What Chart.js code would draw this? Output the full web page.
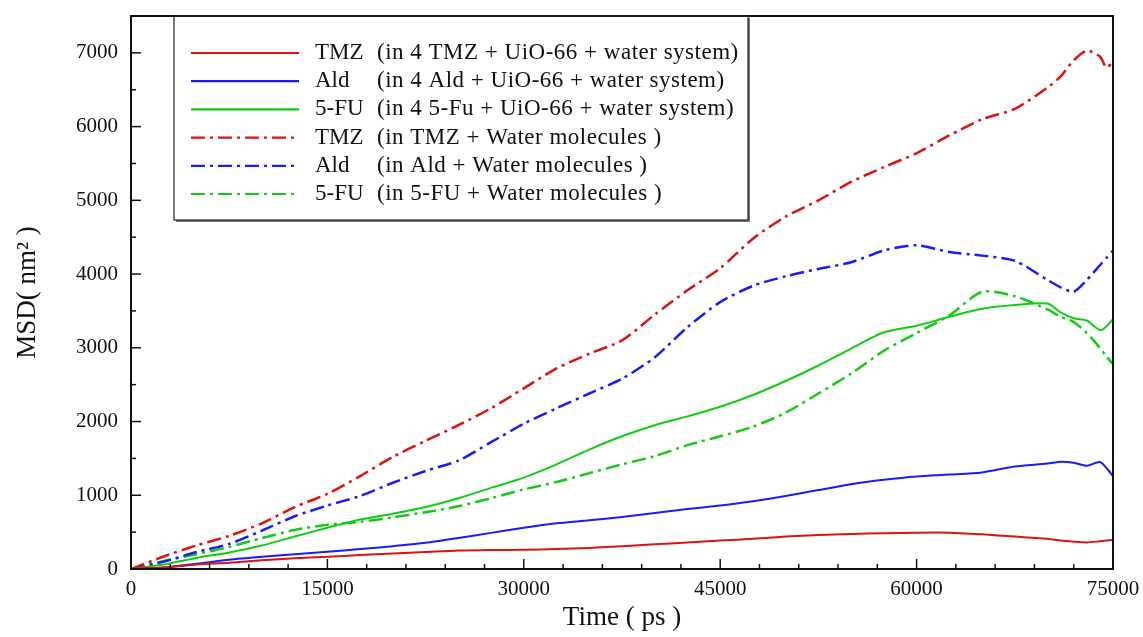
<!DOCTYPE html>
<html>
<head>
<meta charset="utf-8">
<script src="https://cdn.jsdelivr.net/npm/chart.js@4.4.0/dist/chart.umd.min.js"></script>
<style>
  html, body { margin: 0; padding: 0; background: #fff; }
  #wrap { width: 1143px; height: 637px; }
</style>
</head>
<body>
<div id="wrap"><canvas id="msd"></canvas></div>
<script>
// time axis (ps), shared by all six curves
const timePs = [0, 2500, 5000, 7500, 10000, 12500, 15000, 17500, 20000, 22500,
  25000, 27500, 30000, 32500, 35000, 37500, 40000, 42500, 45000, 47500,
  50000, 52500, 55000, 57500, 60000, 62500, 65000, 67500, 70000, 71000,
  72000, 73000, 74000, 74500, 75000];

// MSD (nm^2)
const tmzUio = [0, 20, 60, 85, 120, 145, 165, 190, 210, 230,
  250, 258, 260, 270, 285, 310, 335, 360, 385, 410,
  440, 460, 475, 485, 493, 493, 470, 440, 410, 385,
  370, 360, 375, 385, 395];
const aldUio = [0, 20, 70, 125, 165, 200, 235, 270, 310, 355,
  420, 490, 560, 620, 660, 705, 760, 815, 860, 920,
  990, 1070, 1150, 1210, 1255, 1280, 1310, 1390, 1430, 1456,
  1440, 1400, 1450, 1370, 1260];
const fuUio = [0, 60, 150, 225, 320, 440, 560, 670, 750, 840,
  960, 1100, 1240, 1420, 1620, 1800, 1950, 2070, 2200, 2360,
  2550, 2760, 2990, 3210, 3300, 3420, 3530, 3580, 3600, 3480,
  3400, 3370, 3240, 3290, 3390];
const tmzWater = [0, 170, 320, 450, 620, 840, 1020, 1260, 1520, 1740,
  1950, 2180, 2450, 2720, 2920, 3100, 3450, 3780, 4080, 4480,
  4780, 5000, 5250, 5450, 5640, 5880, 6100, 6240, 6530, 6680,
  6900, 7030, 6950, 6800, 6880];
const aldWater = [0, 100, 230, 340, 520, 715, 860, 990, 1170, 1330,
  1470, 1720, 1970, 2180, 2380, 2580, 2870, 3280, 3620, 3840,
  3970, 4070, 4160, 4320, 4390, 4300, 4250, 4180, 3920, 3820,
  3760, 3920, 4120, 4220, 4320];
const fuWater = [0, 110, 200, 300, 420, 530, 600, 640, 700, 770,
  850, 960, 1080, 1180, 1300, 1420, 1530, 1680, 1800, 1930,
  2120, 2380, 2650, 2960, 3200, 3440, 3760, 3700, 3520, 3420,
  3350, 3200, 3000, 2880, 2780];

const xTicks = [0, 15000, 30000, 45000, 60000, 75000];
const yTicks = [0, 1000, 2000, 3000, 4000, 5000, 6000, 7000];

const seriesNames = ['TMZ', 'Ald', '5-FU', 'TMZ', 'Ald', '5-FU'];
const seriesNotes = [
  '(in 4 TMZ + UiO-66 + water system)',
  '(in 4 Ald + UiO-66 + water system)',
  '(in 4 5-Fu + UiO-66 + water system)',
  '(in TMZ + Water molecules )',
  '(in Ald + Water molecules )',
  '(in 5-FU + Water molecules )'
];

const RED = '#dd1111', BLUE = '#1a1aff', GREEN = '#11cc11';
const DASHDOT = [14, 5, 3, 5];
const SERIF = '"Liberation Serif", "DejaVu Serif", serif';

function toPoints(values) {
  return values.map((v, i) => ({ x: timePs[i], y: v }));
}

function makeSet(i, values, color, dashed) {
  return {
    label: seriesNames[i] + ' ' + seriesNotes[i],
    data: toPoints(values),
    borderColor: color,
    backgroundColor: color,
    borderWidth: dashed ? 2.5 : 2,
    borderDash: dashed ? DASHDOT : [],
    pointRadius: 0,
    tension: 0.25,
    fill: false
  };
}

// frame, inward ticks and the boxed legend
const framePlugin = {
  id: 'frame',
  afterDatasetsDraw(chart) {
    const { ctx, chartArea: a, scales } = chart;
    ctx.save();
    ctx.strokeStyle = '#111';
    ctx.lineWidth = 1.5;
    for (let t = 0; t <= 75000; t += 3000) {
      const x = scales.x.getPixelForValue(t);
      const len = t % 15000 === 0 ? 10 : 5;
      ctx.beginPath();
      ctx.moveTo(x, a.bottom);
      ctx.lineTo(x, a.bottom - len);
      ctx.stroke();
    }
    for (let v = 0; v <= 7500; v += 500) {
      const y = scales.y.getPixelForValue(v);
      const len = v % 1000 === 0 ? 10 : 5;
      ctx.beginPath();
      ctx.moveTo(a.left, y);
      ctx.lineTo(a.left + len, y);
      ctx.stroke();
    }
    ctx.lineWidth = 2;
    ctx.strokeRect(a.left, a.top, a.right - a.left, a.bottom - a.top);

    // legend box
    const bx = a.left + 43, by = a.top, bw = 574, bh = 204;
    ctx.fillStyle = '#fff';
    ctx.fillRect(bx, by + 1, bw, bh - 1);
    ctx.fillStyle = '#777';
    ctx.fillRect(bx + bw, by + 2, 2, bh);
    ctx.fillRect(bx + 2, by + bh, bw, 2);
    ctx.strokeStyle = '#222';
    ctx.lineWidth = 1.2;
    ctx.strokeRect(bx, by, bw, bh);

    ctx.font = '23px ' + SERIF;
    ctx.textBaseline = 'middle';
    ctx.fillStyle = '#111';
    chart.data.datasets.forEach((ds, i) => {
      const y = by + 37 + i * 28.2;
      ctx.strokeStyle = ds.borderColor;
      ctx.lineWidth = 2.2;
      ctx.setLineDash(ds.borderDash);
      ctx.beginPath();
      ctx.moveTo(bx + 17, y);
      ctx.lineTo(bx + 125, y);
      ctx.stroke();
      ctx.setLineDash([]);
      ctx.letterSpacing = '0px';
      ctx.fillText(seriesNames[i], bx + 141, y);
      ctx.letterSpacing = '0.5px';
      ctx.fillText(seriesNotes[i], bx + 203, y);
    });
    ctx.restore();
  }
};

new Chart(document.getElementById('msd'), {
  type: 'line',
  data: {
    datasets: [
      makeSet(0, tmzUio, RED, false),
      makeSet(1, aldUio, BLUE, false),
      makeSet(2, fuUio, GREEN, false),
      makeSet(3, tmzWater, RED, true),
      makeSet(4, aldWater, BLUE, true),
      makeSet(5, fuWater, GREEN, true)
    ]
  },
  options: {
    responsive: true,
    maintainAspectRatio: false,
    animation: false,
    layout: { padding: { top: 16, right: 30, left: 0, bottom: 0 } },
    plugins: { legend: { display: false }, tooltip: { enabled: false } },
    scales: {
      x: {
        type: 'linear',
        min: 0,
        max: 75000,
        grid: { display: false, drawTicks: false },
        border: { display: false },
        afterBuildTicks(scale) { scale.ticks = xTicks.map(v => ({ value: v })); },
        ticks: {
          padding: 8,
          maxRotation: 0,
          autoSkip: false,
          color: '#111',
          font: { family: SERIF, size: 21 },
          callback: v => String(v)
        },
        title: {
          display: true,
          text: 'Time ( ps )',
          color: '#111',
          font: { family: SERIF, size: 27 },
          padding: { top: 0, bottom: 3 }
        },
        afterFit(scale) {
          scale.height = 68;
          scale.paddingLeft = 0;
          scale.paddingRight = 0;
        }
      },
      y: {
        min: 0,
        max: 7500,
        grid: { display: false, drawTicks: false },
        border: { display: false },
        afterBuildTicks(scale) { scale.ticks = yTicks.map(v => ({ value: v })); },
        ticks: {
          padding: 13,
          autoSkip: false,
          color: '#111',
          font: { family: SERIF, size: 21 },
          callback: v => String(v)
        },
        title: {
          display: true,
          text: 'MSD( nm² )',
          color: '#111',
          font: { family: SERIF, size: 27 },
          padding: { top: 12, bottom: 0 }
        },
        afterFit(scale) {
          scale.width = 131;
          scale.paddingTop = 0;
          scale.paddingBottom = 0;
        }
      }
    }
  },
  plugins: [framePlugin]
});
</script>
</body>
</html>
